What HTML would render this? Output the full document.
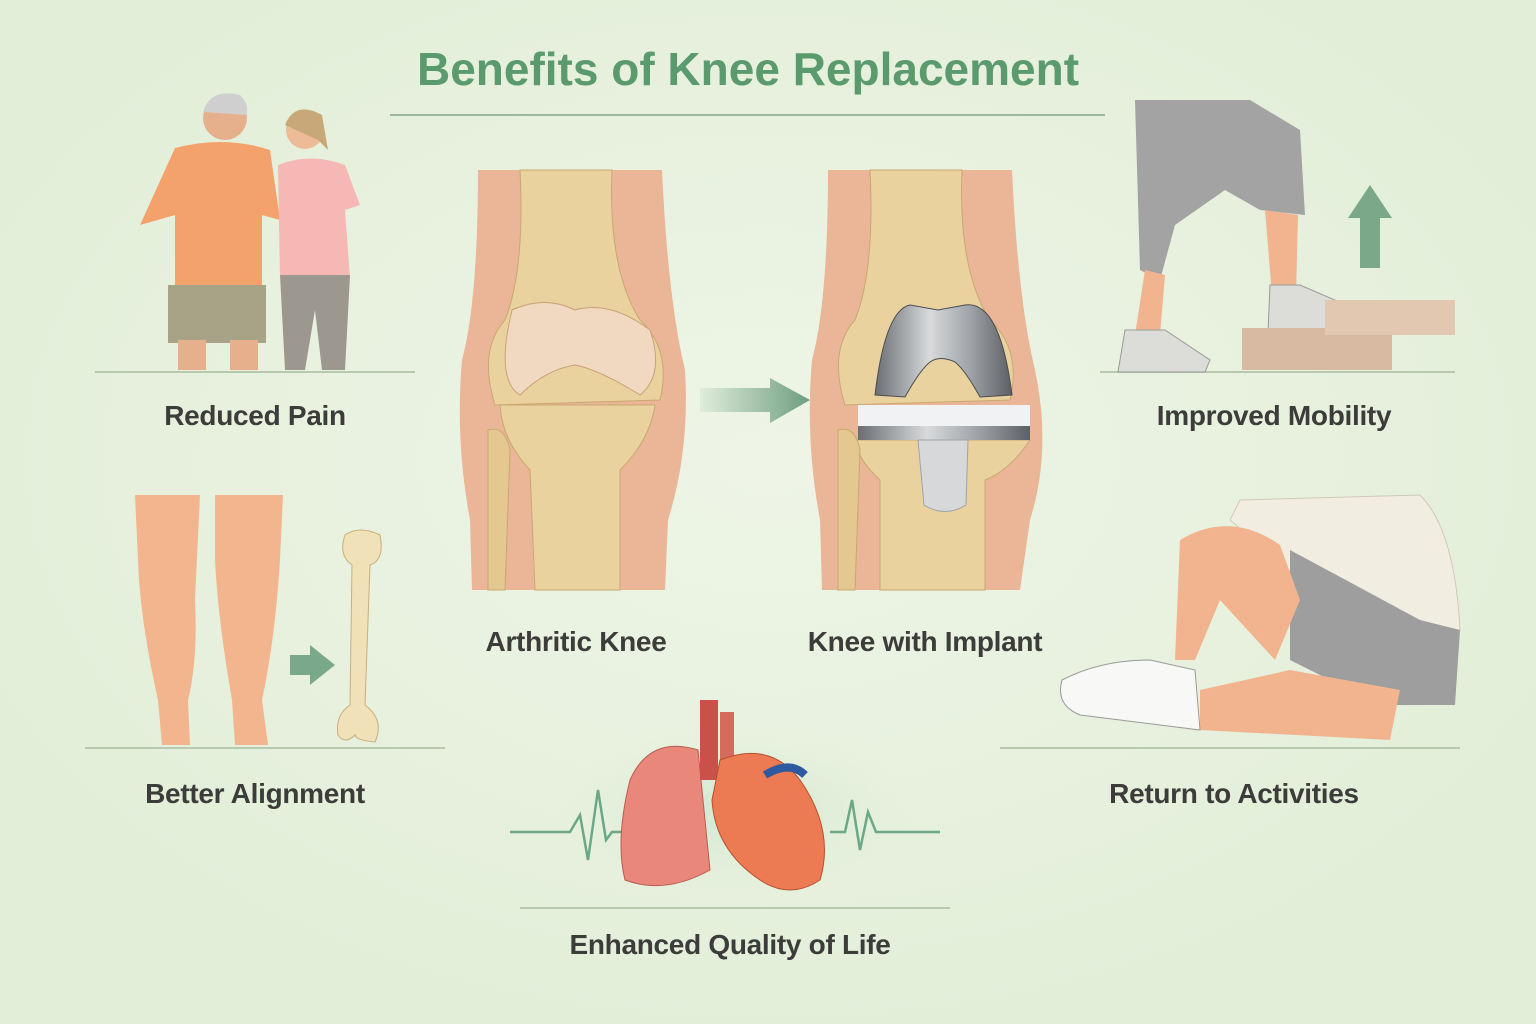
<!DOCTYPE html>
<html><head><meta charset="utf-8"><style>
html,body{margin:0;padding:0}
body{width:1536px;height:1024px;background:#e7f1dd;position:relative;overflow:hidden;font-family:"Liberation Sans",sans-serif}
.t{position:absolute;transform:translateX(-50%);white-space:nowrap;color:#3c3c3a;font-size:28px;font-weight:bold;letter-spacing:-0.3px}
</style></head><body>
<svg width="1536" height="1024" style="position:absolute;left:0;top:0">
<defs>
<radialGradient id="bg" cx="50%" cy="45%" r="60%"><stop offset="0" stop-color="#eef5e6"/><stop offset="1" stop-color="#e2eed8"/></radialGradient>
<linearGradient id="ar" x1="0" x2="1"><stop offset="0" stop-color="#e0eddb"/><stop offset="1" stop-color="#6e9e80"/></linearGradient>
<linearGradient id="met" x1="0" x2="1"><stop offset="0" stop-color="#6a6e72"/><stop offset=".4" stop-color="#d8dadc"/><stop offset=".7" stop-color="#9ea2a6"/><stop offset="1" stop-color="#5c6064"/></linearGradient>
<radialGradient id="glow" cx="50%" cy="50%" r="50%"><stop offset="0" stop-color="#cfe6d0"/><stop offset="1" stop-color="#e7f1dd" stop-opacity="0"/></radialGradient>
</defs>
<rect width="1536" height="1024" fill="url(#bg)"/>
<text x="748" y="85" text-anchor="middle" font-family="Liberation Sans" font-weight="bold" font-size="46" fill="#5b9a6c">Benefits of Knee Replacement</text>
<line x1="390" y1="115" x2="1105" y2="115" stroke="#9cb89c" stroke-width="2"/>
<g stroke="#b9c9b0" stroke-width="2">
<line x1="95" y1="372" x2="415" y2="372"/><line x1="1100" y1="372" x2="1455" y2="372"/>
<line x1="85" y1="748" x2="445" y2="748"/><line x1="1000" y1="748" x2="1460" y2="748"/>
<line x1="520" y1="908" x2="950" y2="908"/></g>

<!-- arthritic knee -->
<g>
<path d="M478 170 L662 170 Q668 300 685 370 Q690 450 668 520 L665 590 L472 590 L470 520 Q455 440 462 360 Q478 300 478 170Z" fill="#ebb597"/>
<path d="M520 170 L612 170 Q608 270 640 320 Q672 350 660 400 L495 405 Q478 350 505 320 Q525 270 520 170Z" fill="#ead29e" stroke="#c9a870"/>
<path d="M512 310 Q545 295 575 310 Q610 300 650 330 Q665 375 640 395 Q600 370 575 365 Q545 370 520 395 Q495 380 512 310Z" fill="#f1d8c0" stroke="#c9a07a"/>
<path d="M500 405 L655 405 Q650 440 620 470 L620 590 L535 590 L530 470 Q502 440 500 405Z" fill="#ead29e" stroke="#c9a870"/>
<path d="M488 430 Q505 425 510 450 L505 590 L488 590Z" fill="#e4c890" stroke="#c9a870"/>
</g>
<!-- arrow -->
<path d="M700 388 L770 388 L770 378 L810 400 L770 423 L770 412 L700 412Z" fill="url(#ar)"/>
<!-- implant knee -->
<g>
<path d="M828 170 L1012 170 Q1018 300 1035 370 Q1052 450 1030 520 L1020 590 L822 590 L820 520 Q805 440 812 360 Q828 300 828 170Z" fill="#ebb597"/>
<path d="M870 170 L962 170 Q958 270 990 320 Q1022 350 1010 400 L845 405 Q828 350 855 320 Q875 270 870 170Z" fill="#ead29e" stroke="#c9a870"/>
<path d="M855 440 L1030 440 Q1010 470 985 480 L985 590 L880 590 L880 480 Q858 460 855 440Z" fill="#ead29e" stroke="#c9a870"/>
<path d="M838 430 Q855 425 860 450 L855 590 L838 590Z" fill="#e4c890" stroke="#c9a870"/>
<path d="M910 305 L938 310 L965 305 Q1000 300 1012 395 L980 397 Q965 370 955 362 Q940 355 930 362 Q920 370 905 397 L875 395 Q885 310 910 305Z" fill="url(#met)" stroke="#4a4d50"/>
<rect x="858" y="405" width="172" height="25" fill="#f1f2f3"/>
<rect x="858" y="426" width="172" height="14" fill="url(#met)"/>
<path d="M918 440 L968 440 L966 505 Q945 518 924 505Z" fill="#d6d8da" stroke="#a0a4a8"/>
</g>

<!-- couple -->
<g>
<circle cx="225" cy="118" r="22" fill="#e6b08c"/><path d="M203 112 Q210 88 240 95 Q250 105 246 115 Z" fill="#cfcfcf"/>
<path d="M175 148 Q225 135 270 150 L280 220 L262 215 L262 290 L175 290 L175 215 L140 225 Z" fill="#f4a26b"/>
<rect x="168" y="285" width="98" height="58" fill="#a8a286"/>
<rect x="178" y="340" width="28" height="30" fill="#e6b08c"/><rect x="230" y="340" width="28" height="30" fill="#e6b08c"/>
<circle cx="305" cy="130" r="19" fill="#edbb98"/><path d="M285 125 Q295 100 322 115 L328 150 L318 140 Z" fill="#c8a878"/>
<path d="M278 165 Q310 152 345 165 L360 205 L345 210 L350 278 L280 278 Z" fill="#f6b8b5"/>
<path d="M280 275 L350 275 L345 370 L322 370 L315 310 L305 370 L285 370 Z" fill="#9c9890"/>
</g>
<!-- mobility legs -->
<g>
<path d="M1135 100 L1250 100 L1300 130 L1305 215 L1260 210 L1225 190 L1175 225 L1160 280 L1140 270 Z" fill="#a3a3a3"/>
<path d="M1145 270 L1165 275 L1160 335 L1135 335 Z" fill="#f1b48e"/>
<path d="M1265 210 L1298 215 L1296 295 L1272 295 Z" fill="#f1b48e"/>
<path d="M1125 330 L1165 330 L1210 360 L1205 372 L1118 372 Z" fill="#dcdcd8" stroke="#9a9a96"/>
<path d="M1270 285 L1300 285 L1358 310 L1355 332 L1268 332 Z" fill="#dcdcd8" stroke="#9a9a96"/>
<rect x="1242" y="328" width="150" height="42" fill="#d8b9a2"/><rect x="1325" y="300" width="130" height="35" fill="#e2c8b0"/>
<path d="M1360 268 L1360 218 L1348 218 L1370 185 L1392 218 L1380 218 L1380 268Z" fill="#7aa888"/>
</g>
<!-- legs + bone -->
<g>
<path d="M135 495 L200 495 L195 600 Q198 660 188 700 L190 745 L162 745 L158 700 Q140 620 138 560 Z" fill="#f2b58e"/>
<path d="M215 495 L283 495 L280 560 Q275 640 262 700 L268 745 L235 745 L232 700 Q218 620 215 560 Z" fill="#f2b58e"/>
<path d="M290 655 L310 655 L310 645 L335 665 L310 685 L310 675 L290 675Z" fill="#79a98a"/>
<path d="M345 535 Q360 525 380 535 Q385 560 370 565 L365 705 Q385 720 375 742 Q355 740 355 735 Q345 745 338 735 Q335 715 350 705 L352 565 Q338 555 345 535Z" fill="#f1e1b9" stroke="#c9ae7a"/>
</g>
<!-- sitting person -->
<g>
<path d="M1240 500 L1420 495 Q1455 530 1460 630 L1400 640 L1300 580 L1230 520Z" fill="#f1ede0" stroke="#cfcab8"/>
<path d="M1290 550 L1420 620 L1460 630 L1455 705 L1380 705 L1290 660 Z" fill="#9e9e9e"/>
<path d="M1180 540 Q1230 510 1280 545 L1300 600 L1275 660 L1220 600 L1195 660 L1175 660 Z" fill="#f1b48e"/>
<path d="M1290 670 L1400 690 L1390 740 L1200 730 L1200 690 Z" fill="#f1b48e"/>
<path d="M1062 680 Q1100 660 1150 660 L1195 670 L1200 730 L1080 715 Q1055 705 1062 680Z" fill="#f8f8f6" stroke="#9a9a96"/>
</g>
<!-- heart lungs -->
<ellipse cx="738" cy="810" rx="200" ry="95" fill="url(#glow)"/>
<polyline points="510,832 570,832 580,815 588,860 598,790 606,840 612,832 640,832" fill="none" stroke="#6aa887" stroke-width="2.5"/>
<polyline points="830,832 845,832 852,800 860,850 868,812 876,832 940,832" fill="none" stroke="#6aa887" stroke-width="2.5"/>
<g>
<path d="M698 750 Q650 735 630 780 Q615 840 625 880 Q665 895 710 870 Z" fill="#e9887a" stroke="#b85c50"/>
<rect x="700" y="700" width="18" height="80" fill="#c9514a"/><rect x="720" y="712" width="14" height="60" fill="#d66a5c"/>
<path d="M720 760 Q770 740 800 780 Q835 830 820 880 Q790 900 760 880 Q715 850 712 800 Z" fill="#ec7a52" stroke="#b5502e"/>
<path d="M765 775 Q790 760 805 775" stroke="#2f5aa0" stroke-width="8" fill="none"/>
</g>
</svg>
<div class="t" style="left:255px;top:400px">Reduced Pain</div>
<div class="t" style="left:1274px;top:400px">Improved Mobility</div>
<div class="t" style="left:576px;top:626px">Arthritic Knee</div>
<div class="t" style="left:925px;top:626px">Knee with Implant</div>
<div class="t" style="left:255px;top:778px">Better Alignment</div>
<div class="t" style="left:1234px;top:778px">Return to Activities</div>
<div class="t" style="left:730px;top:929px">Enhanced Quality of Life</div>
</body></html>
